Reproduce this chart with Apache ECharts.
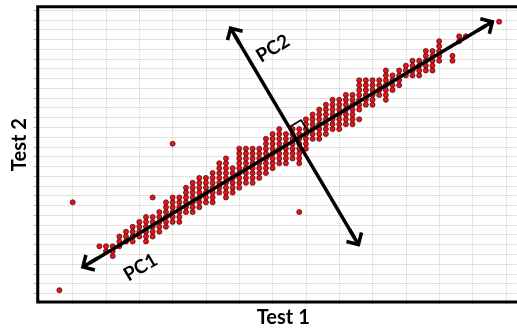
<!DOCTYPE html>
<html><head><meta charset="utf-8">
<script src="https://cdn.jsdelivr.net/npm/echarts@6/dist/echarts.min.js"></script>
<style>html,body{margin:0;padding:0;background:#fff}#c{width:517px;height:332px}</style>
</head><body><div id="c"></div>
<script>
// Point cloud, read column by column (x = Test 1 score, y from colLo to colHi = Test 2 scores)
const colX  = [ 9,10,11,12,13,14,15,16,17,18,19,20,21,22,23,24,25,26,27,28,29,30,31,32,33,34,35,36,37,38,39,40,41,42,43,44,45,46,47,48,49,50,51,52,53,54,55,56,57,58,59,60,62,63,64];
const colLo = [11,10, 9,11,12,12,13,12,13,14,15,16,16,18,18,19,20,20,22,21,22,23,24,24,25,26,27,28,28,29,28,31,33,33,34,35,35,36,36,39,40,40,42,41,43,44,46,46,46,47,47,49,49,53,54];
const colHi = [11,11,11,13,14,15,16,17,17,18,20,21,21,23,24,25,25,26,28,29,27,31,31,31,31,33,34,35,34,35,35,37,38,39,40,41,41,42,42,45,45,45,45,47,46,47,48,49,49,51,51,53,50,54,54];
// isolated points
const outX = [3, 5,17,20,39,48,69];
const outY = [2,20,21,32,18,37,57];
// principal-component arrows (data coordinates) and right-angle marker
const pc1 = [[7.49, 7.54], [67.02, 56.2]];
const pc2 = [[29.27, 54.35], [47.31, 12.68]];
const rightAngle = [[37.48, 35.39], [39.28, 36.86], [40.35, 34.41]];
const pcLabels = ['PC1', 'PC2'];
const pcLabelPos = [[15.18, 6.66], [35.06, 51.5]];
const xTitle = 'Test 1', yTitle = 'Test 2';

const points = [];
colX.forEach((x, i) => { for (let y = colLo[i]; y <= colHi[i]; y++) points.push([x, y]); });
outX.forEach((x, i) => points.push([x, outY[i]]));

const chev = 'path://M10,0 L20,10 L17.5,12.5 L11.8,6.8 L11.8,20 L8.2,20 L8.2,6.8 L2.5,12.5 L0,10 Z';
const FONT = 'Lato, "Open Sans", sans-serif';

const chart = echarts.init(document.getElementById('c'), null, {renderer: 'canvas'});
chart.setOption({
  animation: false,
  backgroundColor: '#fff',
  grid: [
    {left: 39.4, top: 6.7, width: 499.7, bottom: 30, outerBoundsMode: 'none', containLabel: false},
    {left: 39.4, top: 10, width: 499.7, bottom: 38.7, outerBoundsMode: 'none', containLabel: false},
    {left: 37.7, top: 6.7, width: 600, bottom: 30, outerBoundsMode: 'none', containLabel: false,
     show: true, borderColor: '#000', borderWidth: 3, backgroundColor: 'transparent', z: 3}
  ],
  xAxis: [
    {gridIndex: 0, type: 'value', min: 0, max: 75, interval: 5,
     axisLine: {show: false}, axisTick: {show: true, length: 4, lineStyle: {color: '#bbb'}},
     axisLabel: {show: false},
     splitLine: {show: true, lineStyle: {type: 'dotted', color: '#cccccc', width: 1}},
     name: xTitle, nameLocation: 'middle', nameGap: 6,
     nameTextStyle: {fontFamily: FONT, fontWeight: 'bold', fontSize: 20, color: '#000', verticalAlign: 'top', padding: [0, 12, 0, 0]}},
    {gridIndex: 1, type: 'value', min: 0, max: 75, show: false},
    {gridIndex: 2, type: 'value', min: 0, max: 1, show: false}
  ],
  yAxis: [
    {gridIndex: 0, type: 'value', min: -0.41, max: 60.07, show: false, splitLine: {show: false}},
    {gridIndex: 1, type: 'value', min: 0, max: 29, interval: 1,
     axisLine: {show: false}, axisTick: {show: true, length: 6, lineStyle: {color: '#bbb'}},
     axisLabel: {show: false},
     splitLine: {show: true, lineStyle: {type: 'dotted', color: '#c4c4c4', width: 1}},
     name: yTitle, nameLocation: 'middle', nameGap: 10,
     nameTextStyle: {fontFamily: FONT, fontWeight: 'bold', fontSize: 20, color: '#000', padding: [0, 0, 0, 14]}},
    {gridIndex: 2, type: 'value', min: 0, max: 1, show: false}
  ],
  series: [
    {type: 'scatter', xAxisIndex: 0, yAxisIndex: 0, data: points, symbolSize: 5, silent: true, z: 4,
     itemStyle: {color: '#e3141c', borderColor: '#5a0808', borderWidth: 0.8, opacity: 1}},
    {type: 'line', xAxisIndex: 0, yAxisIndex: 0, data: rightAngle, symbol: 'none', silent: true, z: 5,
     lineStyle: {color: '#000', width: 1.6},
     markLine: {silent: true, symbol: [chev, chev], symbolSize: 20, precision: 4,
       lineStyle: {color: '#000', width: 3.5, type: 'solid'}, label: {show: false},
       data: [[{coord: pc1[0]}, {coord: pc1[1]}], [{coord: pc2[0]}, {coord: pc2[1]}]]},
     markPoint: {silent: true, symbol: 'circle', symbolSize: 1, itemStyle: {color: 'rgba(0,0,0,0)'},
       label: {show: true, position: 'inside', formatter: '{b}', rotate: 31, color: '#000',
         fontFamily: FONT, fontWeight: 'bold', fontSize: 19},
       data: pcLabels.map((n, i) => ({name: n, coord: pcLabelPos[i]}))}
    }
  ]
});
</script></body></html>
